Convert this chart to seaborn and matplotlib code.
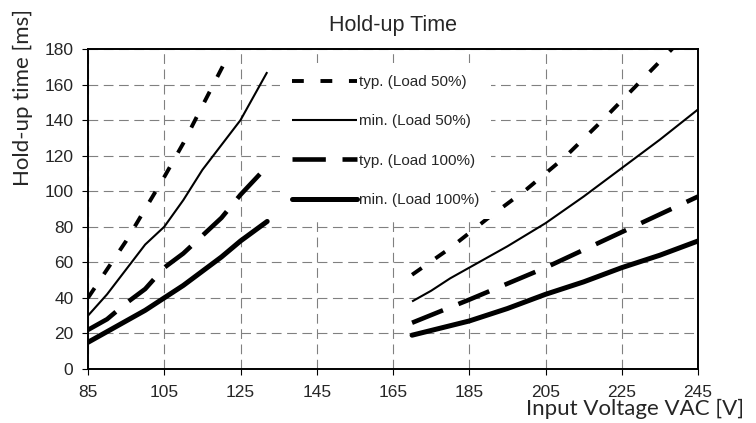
import numpy as np
import pandas as pd
import matplotlib
matplotlib.use("Agg")
import matplotlib.pyplot as plt
import seaborn as sns

# Hold-up time vs input voltage, two measured ranges per curve
LOW_V = [85, 90, 95, 100, 105, 110, 115, 120, 125, 132]
TYP50_LOW_V = [85, 90, 95, 100, 105, 110, 115, 121]
TYP50_LOW_T = [40, 56, 72, 90, 108, 127, 148, 173]
TYP50_HIGH_V = [170, 180, 190, 200, 210, 220, 230, 240]
TYP50_HIGH_T = [53, 68, 85, 101, 119, 140, 162, 184]

MIN50_LOW_T = [30, 42, 56, 70, 80, 95, 112, 126, 140, 167]
MIN50_HIGH_V = [170, 175, 180, 185, 195, 205, 215, 225, 235, 245]
MIN50_HIGH_T = [38, 44, 51, 57, 69, 82, 97, 113, 129, 146]

TYP100_LOW_T = [22, 28, 37, 45, 57, 65, 75, 85, 98, 114]
TYP100_HIGH_V = [170, 185, 195, 205, 215, 225, 235, 245]
TYP100_HIGH_T = [26, 39, 48, 57, 67, 77, 87, 97]

MIN100_LOW_T = [15, 21, 27, 33, 40, 47, 55, 63, 72, 83]
MIN100_HIGH_V = [170, 185, 195, 205, 215, 225, 235, 245]
MIN100_HIGH_T = [19, 27, 34, 42, 49, 57, 64, 72]

LABELS = ["typ. (Load 50%)", "min. (Load 50%)", "typ. (Load 100%)", "min. (Load 100%)"]
XTICKS = [85, 105, 125, 145, 165, 185, 205, 225, 245]
YTICKS = [0, 20, 40, 60, 80, 100, 120, 140, 160, 180]

sns.set_style("white")
plt.rcParams["font.family"] = ["Liberation Sans", "DejaVu Sans"]
plt.rcParams["lines.scale_dashes"] = False

rows = []
def add(label, seg, vs, ts):
	for v, t in zip(vs, ts):
		rows.append({"voltage": v, "time": t, "series": label, "segment": seg})

add(LABELS[0], "low", TYP50_LOW_V, TYP50_LOW_T)
add(LABELS[0], "high", TYP50_HIGH_V, TYP50_HIGH_T)
add(LABELS[1], "low", LOW_V, MIN50_LOW_T)
add(LABELS[1], "high", MIN50_HIGH_V, MIN50_HIGH_T)
add(LABELS[2], "low", LOW_V, TYP100_LOW_T)
add(LABELS[2], "high", TYP100_HIGH_V, TYP100_HIGH_T)
add(LABELS[3], "low", LOW_V, MIN100_LOW_T)
add(LABELS[3], "high", MIN100_HIGH_V, MIN100_HIGH_T)
df = pd.DataFrame(rows)

STYLES = {
	LABELS[0]: dict(lw=2.8, linestyle=(0, (8.5, 12)), dash_capstyle="butt"),
	LABELS[1]: dict(lw=1.5, linestyle="-", solid_capstyle="butt"),
	LABELS[2]: dict(lw=3.3, linestyle=(0, (24, 12)), dash_capstyle="butt"),
	LABELS[3]: dict(lw=3.6, linestyle="-", solid_capstyle="round"),
}

fig = plt.figure(figsize=(7.56, 4.23), dpi=100)
ax = fig.add_axes([0.1164, 0.1277, 0.8069, 0.7565])

handles = []
for label in LABELS:
	for seg in ["low", "high"]:
		sub = df[(df["series"] == label) & (df["segment"] == seg)]
		sns.lineplot(data=sub, x="voltage", y="time", ax=ax, color="black",
			estimator=None, sort=False, **STYLES[label])
		if seg == "low":
			handles.append(ax.lines[-1])

ax.set_xlim(85, 245)
ax.set_ylim(0, 180)
ax.set_xticks(XTICKS)
ax.set_yticks(YTICKS)
ax.grid(True, color="#808080", linestyle=(0, (7, 4)), lw=0.8)
for s in ax.spines.values():
	s.set_color("black")
	s.set_linewidth(1.4)
ax.tick_params(axis="both", direction="out", length=4.5, width=0.8, color="black", labelsize=12.5)
ax.tick_params(axis="x", pad=7, bottom=True)
ax.tick_params(axis="y", pad=6, left=True)

ax.set_title("Hold-up Time", fontsize=15.5, pad=13)
ax.set_xlabel("Input Voltage VAC [V]", fontsize=16, family=["Lato", "DejaVu Sans"])
ax.set_ylabel("Hold-up time [ms]", fontsize=16, family=["Lato", "DejaVu Sans"])
ax.xaxis.set_label_coords(0.897, -0.094)
ax.yaxis.set_label_coords(-0.09, 0.847)

leg = ax.legend(handles, LABELS, loc="upper left", bbox_to_anchor=(0.315, 0.956),
	frameon=True, facecolor="white", edgecolor="none", framealpha=1,
	borderpad=0.8, borderaxespad=0, handlelength=4.25, handletextpad=0.1,
	labelspacing=1.65, fontsize=11, fancybox=False)

fig.savefig("out.png", dpi=100)
